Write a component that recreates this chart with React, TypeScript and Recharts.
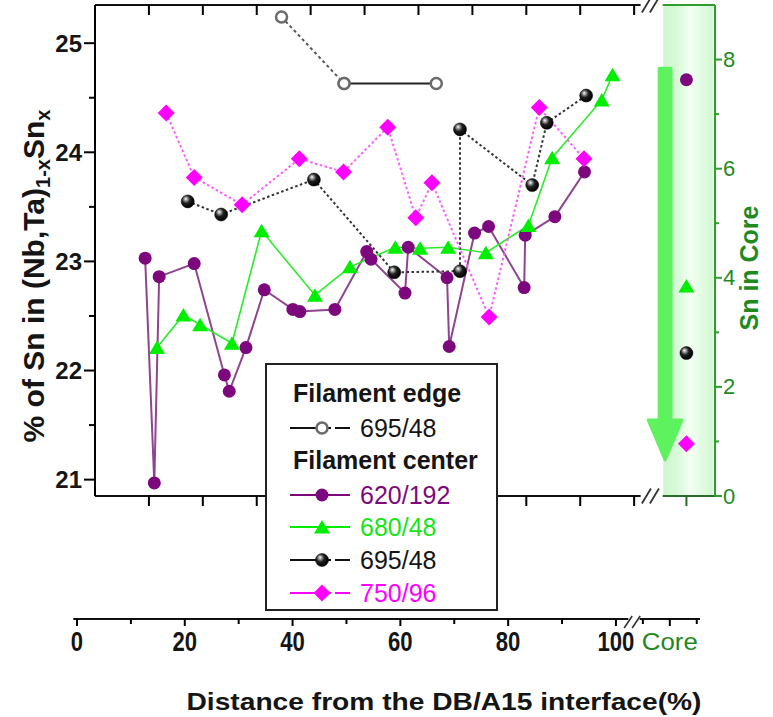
import React from 'react';
import { ComposedChart, Line, Scatter, XAxis, YAxis, ReferenceLine, ReferenceArea, Legend, Label } from 'recharts';

const FONT = '"Liberation Sans", Arial, Helvetica, sans-serif';
const NARROW = '"Liberation Sans Narrow", "Arial Narrow", "Liberation Sans", Arial, sans-serif';

const PURPLE = '#7d087d';
const PURPLE_LINE = '#8e4590';
const GREEN = '#00ee00';
const GREEN_LINE = '#2aec2a';
const MAGENTA = '#ff00ff';
const MAGENTA_LINE = '#ff5cff';
const AXIS_GREEN = '#2e9e2e';
const TEXT_GREEN = '#1f8a1f';

// ---- data: distance from DB/A15 interface (%) and at.% Sn ----
const edge695X = [34.6, 46.2, 63.3];
const edge695Y = [25.24, 24.63, 24.63];

const c620X = [9.3, 11.0, 11.9, 18.4, 24.0, 24.9, 28.0, 31.4, 36.7, 38.0, 44.5, 50.4, 51.2, 57.5, 58.1, 65.3, 65.7, 70.4, 73.0, 79.6, 79.8, 85.3, 90.8];
const c620Y = [23.03, 20.97, 22.86, 22.98, 21.96, 21.81, 22.21, 22.74, 22.56, 22.54, 22.56, 23.09, 23.02, 22.71, 23.13, 22.85, 22.22, 23.26, 23.32, 22.76, 23.24, 23.41, 23.82];

const c680X = [11.5, 16.4, 19.5, 25.4, 30.9, 40.8, 47.3, 55.7, 60.3, 65.5, 72.5, 80.4, 84.8, 94.0, 96.0];
const c680Y = [22.21, 22.51, 22.42, 22.25, 23.28, 22.69, 22.95, 23.13, 23.12, 23.13, 23.08, 23.33, 23.95, 24.48, 24.71];

const c695X = [17.2, 23.4, 40.6, 55.5, 67.7, 67.7, 81.1, 83.8, 91.1];
const c695Y = [23.55, 23.43, 23.75, 22.90, 22.91, 24.21, 23.70, 24.27, 24.52];

const c750X = [13.2, 18.4, 27.3, 37.9, 46.1, 54.3, 59.5, 62.5, 73.1, 82.4, 90.7];
const c750Y = [24.36, 23.77, 23.52, 23.94, 23.82, 24.23, 23.40, 23.72, 22.49, 24.41, 23.94];

// Sn in core (right axis)
const CORE_X = 109.7;
const core620 = 7.63;
const core680 = 3.85;
const core695 = 2.62;
const core750 = 0.96;

// ---- axes ----
const X_DOMAIN = [0, 115];
const LEFT_DOMAIN = [20.85, 25.35];
const RIGHT_DOMAIN = [0, 9];
const LEFT_TICKS = [21, 21.5, 22, 22.5, 23, 23.5, 24, 24.5, 25];
const RIGHT_TICKS = [0, 1, 2, 3, 4, 5, 6, 7, 8];
const FRAME_TICKS = [10, 20, 30, 40, 50, 60, 70, 80, 90, 100];
const BREAK_X = 103.3;
const BAND_X = [105.4, 114.6];

const AXIS_DOMAIN = [0, 115.6];
const AXIS_TICKS = [0, 10, 20, 30, 40, 50, 60, 70, 80, 90, 100, 105, 110, 115];
const AXIS_LABELS = [0, 20, 40, 60, 80, 100];
const AXIS_BREAK = 103.2;
const AXIS_CORE = 110;

const pts = (xs: number[], ys: number[]) => xs.map((x, i) => ({ x, y: ys[i] }));
const edgeData = pts(edge695X, edge695Y);
const d620 = pts(c620X, c620Y);
const d680 = pts(c680X, c680Y);
const d695 = pts(c695X, c695Y);
const d750 = pts(c750X, c750Y);

// ---- marker shapes ----
const circleM = (cx: number, cy: number, k: any) => <circle key={k} cx={cx} cy={cy} r={6.5} fill={PURPLE} />;
const triM = (cx: number, cy: number, k: any) => (
  <polygon key={k} points={`${cx},${cy - 7} ${cx + 8},${cy + 6.5} ${cx - 8},${cy + 6.5}`} fill={GREEN} />
);
const ballM = (cx: number, cy: number, k: any) => (
  <circle key={k} cx={cx} cy={cy} r={6.5} fill="url(#ballGrad)" stroke="#000" strokeWidth={0.5} />
);
const diaM = (cx: number, cy: number, k: any) => (
  <polygon key={k} points={`${cx},${cy - 8.5} ${cx + 8.5},${cy} ${cx},${cy + 8.5} ${cx - 8.5},${cy}`} fill={MAGENTA} />
);
const openM = (cx: number, cy: number, k: any) => (
  <circle key={k} cx={cx} cy={cy} r={5.5} fill="#fff" stroke="#6a6a6a" strokeWidth={2.5} />
);
const dotOf = (fn: any) => (p: any) => fn(p.cx, p.cy, `d${p.index}`);

// ---- ticks ----
const LeftTick = (p: any) => {
  const { x, y, payload } = p;
  const v = payload.value;
  const major = Math.abs(v - Math.round(v)) < 1e-6;
  return (
    <g>
      <line x1={x - (major ? 11 : 6)} x2={x} y1={y} y2={y} stroke="#000" strokeWidth={2} />
      {major && (
        <text x={x - 13} y={y + 8.5} textAnchor="end" fontFamily={FONT} fontWeight="bold" fontSize={24} fill="#151515">
          {v}
        </text>
      )}
    </g>
  );
};

const RightTick = (p: any) => {
  const { x, y, payload } = p;
  const v = payload.value;
  const major = v % 2 === 0;
  return (
    <g>
      <line x1={x} x2={x + (major ? 7 : 4)} y1={y} y2={y} stroke={AXIS_GREEN} strokeWidth={2} />
      {major && (
        <text x={x + 8} y={y + 7.5} textAnchor="start" fontFamily={FONT} fontSize={22} fill={TEXT_GREEN}>
          {v}
        </text>
      )}
    </g>
  );
};

const Slashes = ({ x, y }: { x: number; y: number }) => (
  <g>
    <rect x={x - 10} y={y - 2} width={20} height={4} fill="#fff" />
    <line x1={x - 10} y1={y + 7.5} x2={x - 1} y2={y - 7.5} stroke="#333" strokeWidth={1.8} />
    <line x1={x - 2} y1={y + 7.5} x2={x + 7} y2={y - 7.5} stroke="#333" strokeWidth={1.8} />
  </g>
);

const TopTick = (p: any) => {
  const { x, y, payload } = p;
  if (payload.value === BREAK_X) return <Slashes x={x} y={y} />;
  return <line x1={x} x2={x} y1={y} y2={y + 10} stroke="#000" strokeWidth={2} />;
};

const BottomFrameTick = (p: any) => {
  const { x, y, payload } = p;
  if (payload.value === BREAK_X) return <Slashes x={x} y={y} />;
  const core = payload.value === CORE_X;
  return <line x1={x} x2={x} y1={y} y2={y + 10} stroke={core ? '#2a6a2a' : '#000'} strokeWidth={2} />;
};

const AxisTick = (p: any) => {
  const { x, y, payload } = p;
  const v = payload.value;
  if (v === AXIS_BREAK) {
    return (
      <g>
        <line x1={x - 9} y1={y + 9} x2={x - 1} y2={y - 3} stroke="#333" strokeWidth={1.6} />
        <line x1={x - 1} y1={y + 9} x2={x + 7} y2={y - 3} stroke="#333" strokeWidth={1.6} />
      </g>
    );
  }
  const labelled = AXIS_LABELS.includes(v);
  const isCore = v === AXIS_CORE;
  const len = labelled || isCore ? 7 : 5;
  const s = String(v);
  return (
    <g>
      <line x1={x} x2={x} y1={y} y2={y + len} stroke="#000" strokeWidth={2} />
      {labelled && (
        <text
          x={x}
          y={y + 32}
          textAnchor="middle"
          fontFamily={NARROW}
          fontWeight="bold"
          fontSize={27}
          fill="#151515"
          textLength={s.length * 12.3}
          lengthAdjust="spacingAndGlyphs"
        >
          {s}
        </text>
      )}
      {isCore && (
        <text x={x} y={y + 31} textAnchor="middle" fontFamily={NARROW} fontSize={24} fill={TEXT_GREEN} textLength={56} lengthAdjust="spacingAndGlyphs">
          Core
        </text>
      )}
    </g>
  );
};

const LeftTitle = () => (
  <text x={44} y={276} transform="rotate(-90 44 276)" textAnchor="middle" fontFamily={FONT} fontWeight="bold" fontSize={30} fill="#151515">
    % of Sn in (Nb,Ta)
    <tspan fontSize={20} dy={6}>1-x</tspan>
    <tspan fontSize={30} dy={-6}>Sn</tspan>
    <tspan fontSize={20} dy={6}>x</tspan>
  </text>
);

const RightTitle = () => (
  <text x={758} y={268} transform="rotate(-90 758 268)" textAnchor="middle" fontFamily={FONT} fontWeight="bold" fontSize={25} fill={TEXT_GREEN}>
    Sn in Core
  </text>
);

const BottomTitle = () => (
  <text x={444} y={110} textAnchor="middle" fontFamily={FONT} fontWeight="bold" fontSize={24} fill="#151515" textLength={515} lengthAdjust="spacingAndGlyphs">
    Distance from the DB/A15 interface(%)
  </text>
);

const ArrowShape = (p: any) => {
  const { x, y, width, height } = p;
  const cx = x + width / 2;
  const bw = 12;
  const hh = 40;
  const d = `M${cx - bw / 2},${y} L${cx + bw / 2},${y} L${cx + bw / 2},${y + height - hh} L${x + width},${y + height - hh} L${cx},${y + height} L${x},${y + height - hh} L${cx - bw / 2},${y + height - hh} Z`;
  return <path d={d} fill="#5ef35e" stroke="#5ef35e" strokeWidth={3} strokeLinejoin="round" />;
};

// ---- legend ----
const LEGEND_ROWS = [
  { kind: 'head', text: 'Filament edge', cy: 30 },
  { kind: 'item', text: '695/48', color: '#151515', marker: openM, cy: 65, dash: true },
  { kind: 'head', text: 'Filament center', cy: 97 },
  { kind: 'item', text: '620/192', color: PURPLE, marker: circleM, cy: 132, line: PURPLE, dash: false },
  { kind: 'item', text: '680/48', color: '#16e616', marker: triM, cy: 164, line: GREEN, dash: false },
  { kind: 'item', text: '695/48', color: '#151515', marker: ballM, cy: 197, dash: true },
  { kind: 'item', text: '750/96', color: MAGENTA, marker: diaM, cy: 230, line: MAGENTA, dash: true },
];

const LegendBox = () => (
  <svg width={233} height={248} style={{ display: 'block' }}>
    <rect x={1} y={1} width={231} height={246} fill="#fff" stroke="#222" strokeWidth={2} />
    {LEGEND_ROWS.map((r: any, i) =>
      r.kind === 'head' ? (
        <text key={i} x={28} y={r.cy + 9} fontFamily={FONT} fontWeight="bold" fontSize={25} fill="#151515">
          {r.text}
        </text>
      ) : (
        <g key={i}>
          <line x1={25} x2={r.dash ? 66 : 85} y1={r.cy} y2={r.cy} stroke={r.line || '#111'} strokeWidth={2} />
          {r.dash && <line x1={70} x2={85} y1={r.cy} y2={r.cy} stroke={r.line || '#111'} strokeWidth={2} />}
          {r.marker(57, r.cy, 'm')}
          <text x={95} y={r.cy + 9} fontFamily={FONT} fontSize={25} fill={r.color}>
            {r.text}
          </text>
        </g>
      )
    )}
  </svg>
);

export default function App() {
  return (
    <div style={{ position: 'absolute', left: 0, top: 0, width: 773, height: 717, background: '#fff' }}>
      <svg width={0} height={0} style={{ position: 'absolute' }}>
        <defs>
          <radialGradient id="ballGrad" cx="0.4" cy="0.38" r="0.62" fx="0.35" fy="0.3">
            <stop offset="0" stopColor="#ffffff" />
            <stop offset="0.18" stopColor="#a8a8a8" />
            <stop offset="0.5" stopColor="#202020" />
            <stop offset="1" stopColor="#000000" />
          </radialGradient>
          <linearGradient id="coreBand" x1="0" x2="1" y1="0" y2="0">
            <stop offset="0" stopColor="#cff6cf" />
            <stop offset="0.3" stopColor="#d9f9d9" />
            <stop offset="0.55" stopColor="#f4fff4" />
            <stop offset="0.8" stopColor="#e0fbe0" />
            <stop offset="1" stopColor="#d2f7d2" />
          </linearGradient>
        </defs>
      </svg>

      <div style={{ position: 'absolute', left: 0, top: 0 }}>
        <ComposedChart width={773} height={717} margin={{ top: 0, right: 0, bottom: 0, left: 0 }}>
          <XAxis xAxisId="top" orientation="top" type="number" dataKey="x" domain={X_DOMAIN} allowDataOverflow
            ticks={[...FRAME_TICKS, BREAK_X]} interval={0} tick={TopTick} tickLine={false} axisLine={false}
            tickSize={0} tickMargin={0} height={5} />
          <XAxis xAxisId="main" orientation="bottom" type="number" dataKey="x" domain={X_DOMAIN} allowDataOverflow
            ticks={[...FRAME_TICKS, BREAK_X, CORE_X]} interval={0} tick={BottomFrameTick} tickLine={false} axisLine={false}
            tickSize={0} tickMargin={0} height={221} />
          <YAxis yAxisId="left" orientation="left" type="number" dataKey="y" domain={LEFT_DOMAIN} allowDataOverflow
            ticks={LEFT_TICKS} interval={0} tick={LeftTick} tickLine={false} axisLine={{ stroke: '#000', strokeWidth: 2 }}
            tickSize={0} tickMargin={0} width={95}>
            <Label content={<LeftTitle />} />
          </YAxis>
          <YAxis yAxisId="right" orientation="right" type="number" dataKey="y" domain={RIGHT_DOMAIN} allowDataOverflow
            ticks={RIGHT_TICKS} interval={0} tick={RightTick} tickLine={false} axisLine={{ stroke: AXIS_GREEN, strokeWidth: 2 }}
            tickSize={0} tickMargin={0} width={58}>
            <Label content={<RightTitle />} />
          </YAxis>

          <ReferenceArea xAxisId="main" yAxisId="left" x1={BAND_X[0]} x2={BAND_X[1]} y1={LEFT_DOMAIN[0]} y2={LEFT_DOMAIN[1]}
            fill="url(#coreBand)" fillOpacity={1} stroke="none" />
          <ReferenceArea xAxisId="main" yAxisId="right" x1={102.6} x2={108.9} y1={0.66} y2={7.84} shape={ArrowShape} />

          <ReferenceLine xAxisId="main" yAxisId="left" segment={[{ x: 0, y: LEFT_DOMAIN[1] }, { x: 101.2, y: LEFT_DOMAIN[1] }]} stroke="#111" strokeWidth={2} ifOverflow="visible" />
          <ReferenceLine xAxisId="main" yAxisId="left" segment={[{ x: 105.3, y: LEFT_DOMAIN[1] }, { x: 115, y: LEFT_DOMAIN[1] }]} stroke={AXIS_GREEN} strokeWidth={2} ifOverflow="visible" />
          <ReferenceLine xAxisId="main" yAxisId="left" segment={[{ x: 0, y: LEFT_DOMAIN[0] }, { x: 101.2, y: LEFT_DOMAIN[0] }]} stroke="#111" strokeWidth={2} ifOverflow="visible" />
          <ReferenceLine xAxisId="main" yAxisId="left" segment={[{ x: 105.3, y: LEFT_DOMAIN[0] }, { x: 115, y: LEFT_DOMAIN[0] }]} stroke="#2a6a2a" strokeWidth={2} ifOverflow="visible" />

          <Line xAxisId="main" yAxisId="left" data={d620} dataKey="y" type="linear" stroke={PURPLE_LINE} strokeWidth={2}
            dot={dotOf(circleM)} activeDot={false} isAnimationActive={false} />
          <Line xAxisId="main" yAxisId="left" data={d680} dataKey="y" type="linear" stroke={GREEN_LINE} strokeWidth={1.6}
            dot={dotOf(triM)} activeDot={false} isAnimationActive={false} />
          <Line xAxisId="main" yAxisId="left" data={d695} dataKey="y" type="linear" stroke="#333" strokeWidth={2}
            strokeDasharray="2.5 2.5" dot={dotOf(ballM)} activeDot={false} isAnimationActive={false} />
          <Line xAxisId="main" yAxisId="left" data={d750} dataKey="y" type="linear" stroke={MAGENTA_LINE} strokeWidth={2}
            strokeDasharray="2.5 2.5" dot={dotOf(diaM)} activeDot={false} isAnimationActive={false} />
          <Line xAxisId="main" yAxisId="left" data={edgeData.slice(0, 2)} dataKey="y" type="linear" stroke="#555" strokeWidth={2}
            strokeDasharray="3 3" dot={dotOf(openM)} activeDot={false} isAnimationActive={false} />
          <Line xAxisId="main" yAxisId="left" data={edgeData.slice(1)} dataKey="y" type="linear" stroke="#222" strokeWidth={2}
            dot={dotOf(openM)} activeDot={false} isAnimationActive={false} />

          <Scatter xAxisId="main" yAxisId="right" data={[{ x: CORE_X, y: core620 }]} dataKey="y" shape={(p: any) => circleM(p.cx, p.cy, 'c1')} isAnimationActive={false} />
          <Scatter xAxisId="main" yAxisId="right" data={[{ x: CORE_X, y: core680 }]} dataKey="y" shape={(p: any) => triM(p.cx, p.cy, 'c2')} isAnimationActive={false} />
          <Scatter xAxisId="main" yAxisId="right" data={[{ x: CORE_X, y: core695 }]} dataKey="y" shape={(p: any) => ballM(p.cx, p.cy, 'c3')} isAnimationActive={false} />
          <Scatter xAxisId="main" yAxisId="right" data={[{ x: CORE_X, y: core750 }]} dataKey="y" shape={(p: any) => diaM(p.cx, p.cy, 'c4')} isAnimationActive={false} />

          <Legend content={<LegendBox />} layout="vertical" align="center" verticalAlign="middle"
            wrapperStyle={{ position: 'absolute', left: 265, top: 363, width: 233, height: 248 }} />
        </ComposedChart>
      </div>

      <div style={{ position: 'absolute', left: 0, top: 600 }}>
        <ComposedChart width={773} height={117} margin={{ top: 0, right: 73, bottom: 0, left: 77 }}>
          <XAxis xAxisId="a" orientation="bottom" type="number" dataKey="x" domain={AXIS_DOMAIN} allowDataOverflow
            ticks={[...AXIS_TICKS, AXIS_BREAK]} interval={0} tick={AxisTick} tickLine={false} axisLine={false}
            tickSize={0} tickMargin={0} height={98}>
            <Label content={<BottomTitle />} />
          </XAxis>
          <YAxis yAxisId="a" hide type="number" domain={[0, 1]} allowDataOverflow />
          <ReferenceLine xAxisId="a" yAxisId="a" segment={[{ x: -0.7, y: 0 }, { x: 102.3, y: 0 }]} stroke="#111" strokeWidth={2} ifOverflow="visible" />
          <ReferenceLine xAxisId="a" yAxisId="a" segment={[{ x: 104.4, y: 0 }, { x: 115.6, y: 0 }]} stroke="#111" strokeWidth={2} ifOverflow="visible" />
        </ComposedChart>
      </div>
    </div>
  );
}
